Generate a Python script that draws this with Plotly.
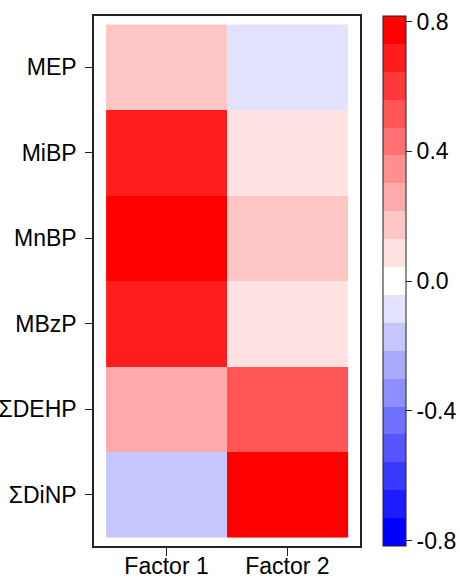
import plotly.graph_objects as go

# ---- data ----
compounds = ["MEP", "MiBP", "MnBP", "MBzP", "ΣDEHP", "ΣDiNP"]
factors = ["Factor 1", "Factor 2"]
factor1 = [0.17, 0.69, 0.79, 0.69, 0.26, -0.17]
factor2 = [-0.08, 0.09, 0.17, 0.08, 0.52, 0.79]
cbar_ticks = [-0.8, -0.4, 0.0, 0.4, 0.8]

z = [[a, b] for a, b in zip(factor1, factor2)]

# ---- stepped blue-white-red colour scale (19 bins) ----
nbins = 19
half = nbins // 2
cols = []
for i in range(nbins):
    k = i - half
    if k < 0:
        v = round(255 * (1 + k / half))
        cols.append(f"rgb({v},{v},255)")
    elif k > 0:
        v = round(255 * (1 - k / half))
        cols.append(f"rgb(255,{v},{v})")
    else:
        cols.append("rgb(255,255,255)")
cscale = []
for i, c in enumerate(cols):
    cscale.append([i / nbins, c])
    cscale.append([(i + 1) / nbins, c])

zlim = 0.817
FONT = "Liberation Sans, Arial, sans-serif"

fig = go.Figure(
    go.Heatmap(
        z=z,
        x=factors,
        y=compounds,
        colorscale=cscale,
        zmin=-zlim,
        zmax=zlim,
        xgap=0,
        ygap=0,
        colorbar=dict(
            thickness=23,
            thicknessmode="pixels",
            len=1,
            lenmode="fraction",
            y=0.5,
            yanchor="middle",
            x=1.087,
            xanchor="left",
            xpad=0,
            ypad=0,
            outlinewidth=1,
            outlinecolor="#222",
            tickvals=cbar_ticks,
            ticktext=[f"{t:.1f}" for t in cbar_ticks],
            ticks="outside",
            ticklen=6,
            tickwidth=1,
            tickcolor="#222",
            tickfont=dict(family=FONT, size=23, color="black"),
        ),
    )
)

fig.update_layout(
    width=460,
    height=581,
    margin=dict(l=94, r=100, t=16, b=35, autoexpand=False),
    paper_bgcolor="white",
    plot_bgcolor="white",
    font=dict(family=FONT, size=23, color="black"),
    xaxis=dict(
        range=[-0.6, 1.6],
        automargin=False,
        showline=True,
        mirror=True,
        linecolor="#222",
        linewidth=1.5,
        ticks="outside",
        ticklen=8,
        tickwidth=1.2,
        tickcolor="#222",
        ticklabelstandoff=-9,
        showgrid=False,
        zeroline=False,
        tickfont=dict(family=FONT, size=23, color="black"),
    ),
    yaxis=dict(
        range=[5.6, -0.6],
        automargin=False,
        showline=True,
        mirror=True,
        linecolor="#222",
        linewidth=1.5,
        ticks="outside",
        ticklen=7,
        tickwidth=1.2,
        tickcolor="#222",
        ticklabelstandoff=4,
        showgrid=False,
        zeroline=False,
        tickfont=dict(family=FONT, size=23, color="black"),
    ),
)

fig.write_html("out.html")
